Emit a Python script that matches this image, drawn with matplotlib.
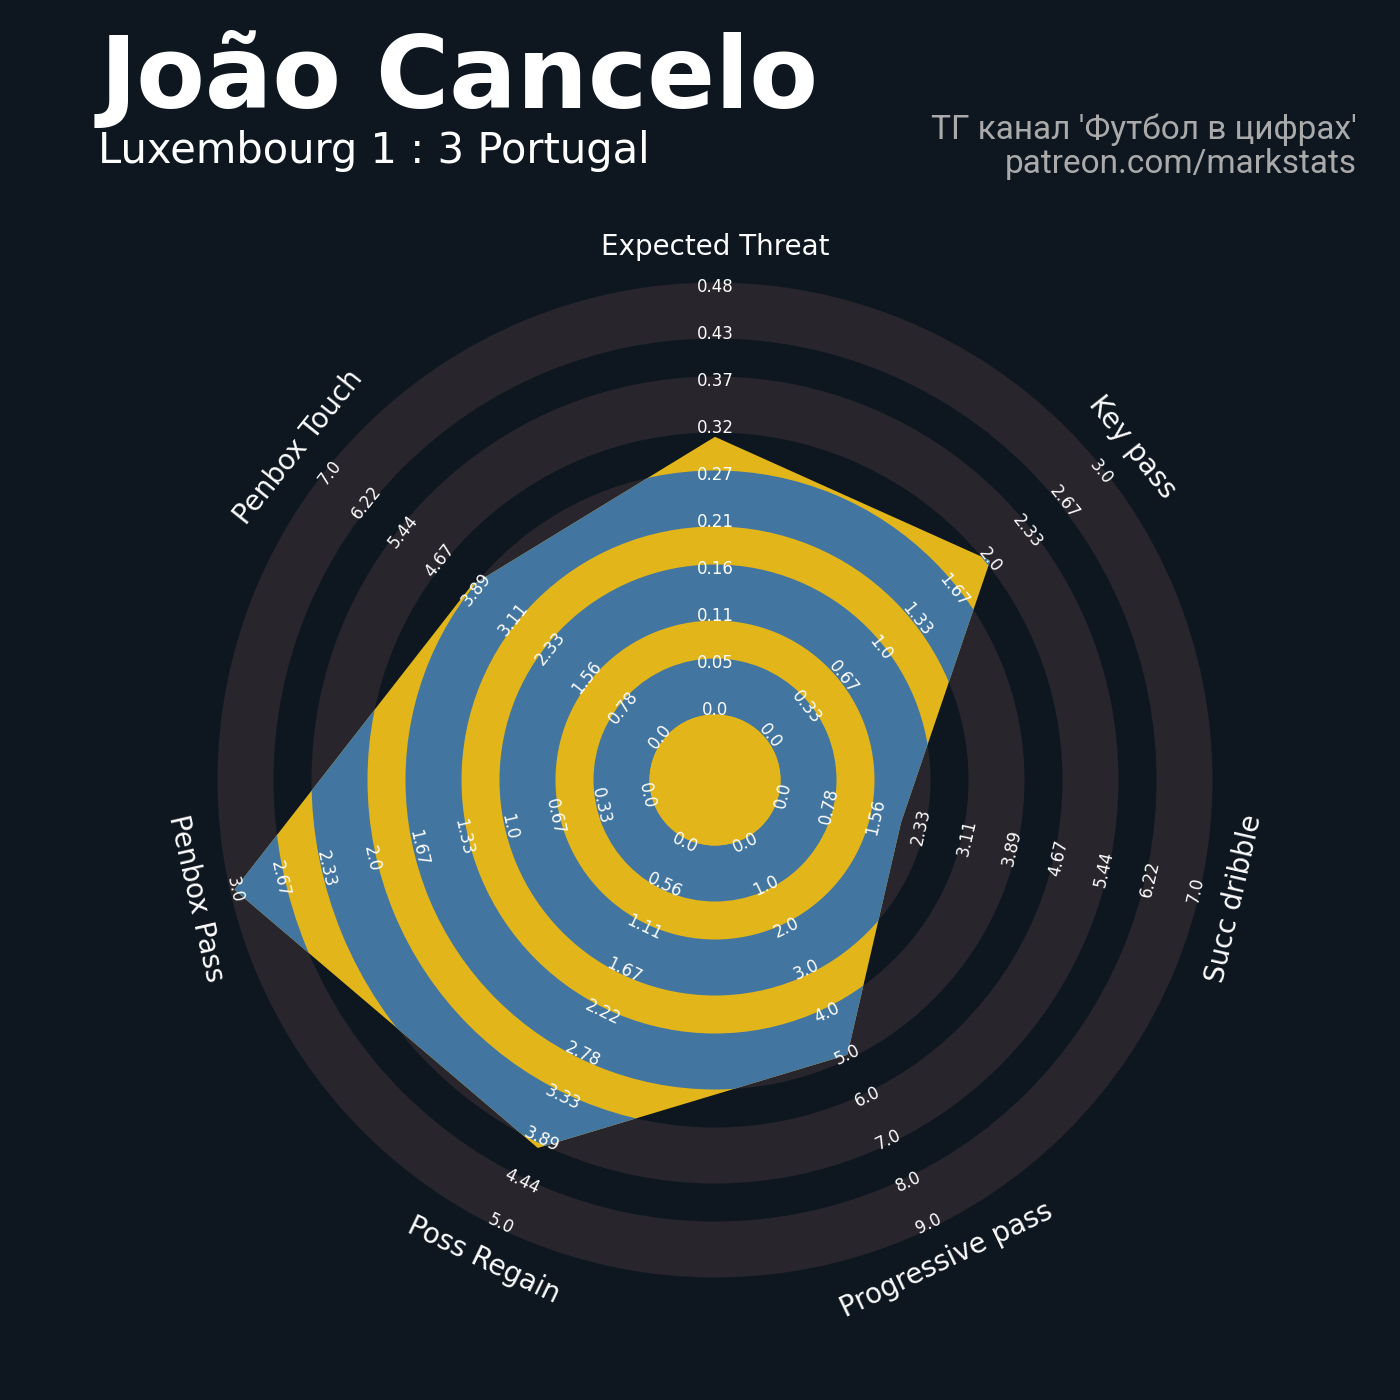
import numpy as np
import matplotlib
matplotlib.use("Agg")
import matplotlib.pyplot as plt
from matplotlib.patches import Wedge, Circle, Polygon

# data
params = ["Expected Threat", "Key pass", "Succ dribble", "Progressive pass",
          "Poss Regain", "Penbox Pass", "Penbox Touch"]
low = [0, 0, 0, 0, 0, 0, 0]
high = [0.48, 3.0, 7.0, 9.0, 5.0, 3.0, 7.0]
values = [0.31, 2, 2, 5, 4, 3, 4]

player = "João Cancelo"
match = "Luxembourg 1 : 3 Portugal"
credit = "ТГ канал 'Футбол в цифрах'\npatreon.com/markstats"

# style
BG = "#0e1720"
RING_GRAY = "#28252c"
BLUE = "#4276a0"
YELLOW = "#e2b51a"
TXT = "#fcfcfc"

NUM_RINGS = 9
CENTER_R = 70     # radius where the scale starts (px-like units)
RING_W = 47       # width of one ring
EXTRA = 4.5       # odd rings are drawn a bit wider
LABEL_R = 533


def to_radius(v, lo, hi):
    return CENTER_R + (v - lo) / (hi - lo) * NUM_RINGS * RING_W


def text_rotation(theta):
    rot = theta - 90
    rot = (rot + 180) % 360 - 180
    if abs(rot) > 90:
        rot = rot - 180 if rot > 0 else rot + 180
    return rot


fig = plt.figure(figsize=(14, 14), dpi=100, facecolor=BG)
half = 600
cx, cy = 715, 780
ax = fig.add_axes([(cx - half) / 1400, (1400 - cy - half) / 1400,
                   2 * half / 1400, 2 * half / 1400])
ax.set_xlim(-half, half)
ax.set_ylim(-half, half)
ax.set_aspect("equal")
ax.axis("off")
ax.set_facecolor(BG)

n = len(params)
thetas = 90 - np.arange(n) * 360 / n

# background rings (outside the radar)
for k in range(1, NUM_RINGS + 1, 2):
    r_in = CENTER_R + (k - 1) * RING_W - EXTRA
    r_out = CENTER_R + k * RING_W + EXTRA
    ax.add_patch(Wedge((0, 0), r_out, 0, 360, width=r_out - r_in,
                       facecolor=RING_GRAY, edgecolor="none", zorder=1))

# radar polygon
radii = [to_radius(v, lo, hi) for v, lo, hi in zip(values, low, high)]
verts = [(r * np.cos(np.radians(t)), r * np.sin(np.radians(t)))
         for r, t in zip(radii, thetas)]
poly = Polygon(verts, closed=True, facecolor=YELLOW, edgecolor="none", zorder=2)
ax.add_patch(poly)

for k in range(1, NUM_RINGS + 1, 2):
    r_in = CENTER_R + (k - 1) * RING_W - EXTRA
    r_out = CENTER_R + k * RING_W + EXTRA
    w = Wedge((0, 0), r_out, 0, 360, width=r_out - r_in,
              facecolor=BLUE, edgecolor="none", zorder=3)
    ax.add_patch(w)
    w.set_clip_path(poly)

ax.add_patch(Circle((0, 0), CENTER_R - EXTRA, facecolor=YELLOW,
                    edgecolor="none", zorder=4))

# range labels
for t, lo, hi in zip(thetas, low, high):
    rot = text_rotation(t)
    for k, val in enumerate(np.linspace(lo, hi, NUM_RINGS + 1)):
        r = CENTER_R + k * RING_W
        ax.text(r * np.cos(np.radians(t)), r * np.sin(np.radians(t)),
                str(round(float(val), 2)), fontsize=12, color=TXT,
                ha="center", va="center", rotation=rot,
                rotation_mode="anchor", zorder=5)

# param labels
for t, p in zip(thetas, params):
    ax.text(LABEL_R * np.cos(np.radians(t)), LABEL_R * np.sin(np.radians(t)),
            p, fontsize=20, color=TXT, ha="center", va="center",
            rotation=text_rotation(t), rotation_mode="anchor", zorder=5)

# titles
fig.text(100 / 1400, 1 - 108 / 1400, player, fontsize=72, fontweight="bold",
         color="white", ha="left", va="baseline")
fig.text(98 / 1400, 1 - 163 / 1400, match, fontsize=30, color="white",
         ha="left", va="baseline")
fig.text(1357 / 1400, 1 - 173 / 1400, credit, fontsize=24, color="#aaaaaa",
         family="Roboto", ha="right", va="baseline", multialignment="right",
         linespacing=1.1)

fig.savefig("out.png", dpi=100, facecolor=BG)
